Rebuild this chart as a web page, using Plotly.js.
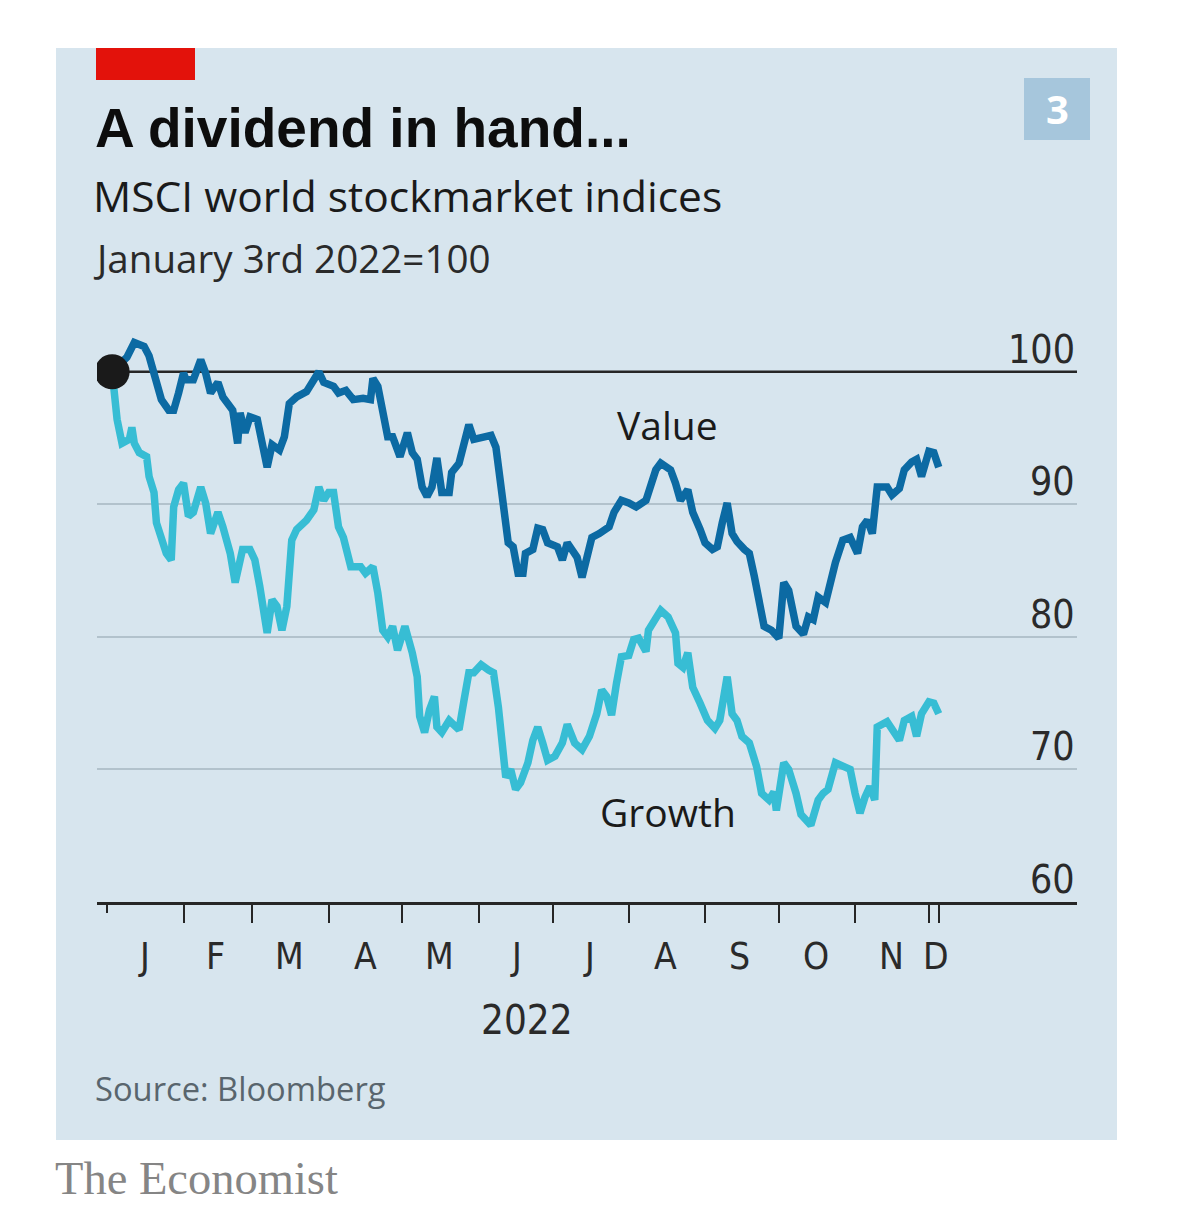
<!DOCTYPE html>
<html>
<head>
<meta charset="utf-8">
<script src="https://cdn.plot.ly/plotly-3.0.1.min.js"></script>
<style>
  html, body { margin: 0; padding: 0; background: #ffffff; }
  #chart { width: 1200px; height: 1228px; }
</style>
</head>
<body>
<div id="chart"></div>
<script>
// ---------------- DATA ----------------
const valueDates = [
  "2022-01-03","2022-01-09","2022-01-12","2022-01-16","2022-01-18","2022-01-20","2022-01-23","2022-01-26","2022-01-28","2022-01-30",
  "2022-02-01","2022-02-02","2022-02-05","2022-02-08","2022-02-10","2022-02-12","2022-02-15","2022-02-17","2022-02-21","2022-02-23",
  "2022-02-24","2022-02-26","2022-02-28","2022-03-03","2022-03-05","2022-03-07","2022-03-09","2022-03-12","2022-03-14","2022-03-16",
  "2022-03-19","2022-03-23","2022-03-26","2022-03-28","2022-03-30","2022-04-03","2022-04-05","2022-04-08","2022-04-11","2022-04-15",
  "2022-04-18","2022-04-19","2022-04-21","2022-04-23","2022-04-25","2022-04-27","2022-04-29","2022-04-30","2022-05-03","2022-05-05",
  "2022-05-07","2022-05-09","2022-05-11","2022-05-13","2022-05-15","2022-05-17","2022-05-20","2022-05-21","2022-05-24","2022-05-28",
  "2022-05-30","2022-06-03","2022-06-06","2022-06-08","2022-06-10","2022-06-12","2022-06-13","2022-06-15","2022-06-17","2022-06-19",
  "2022-06-20","2022-06-23","2022-06-25","2022-06-27","2022-06-29","2022-07-03","2022-07-05","2022-07-07","2022-07-09","2022-07-11",
  "2022-07-13","2022-07-15","2022-07-17","2022-07-20","2022-07-24","2022-07-26","2022-07-29","2022-08-01","2022-08-04","2022-08-08",
  "2022-08-10","2022-08-12","2022-08-14","2022-08-18","2022-08-20","2022-08-22","2022-08-25","2022-08-27","2022-08-30","2022-09-01",
  "2022-09-04","2022-09-06","2022-09-08","2022-09-10","2022-09-12","2022-09-14","2022-09-17","2022-09-19","2022-09-21","2022-09-23",
  "2022-09-25","2022-09-28","2022-10-01","2022-10-03","2022-10-05","2022-10-08","2022-10-11","2022-10-13","2022-10-15","2022-10-17",
  "2022-10-20","2022-10-24","2022-10-27","2022-10-30","2022-11-02","2022-11-04","2022-11-06","2022-11-08","2022-11-10","2022-11-14",
  "2022-11-16","2022-11-19","2022-11-21","2022-11-24","2022-11-26","2022-11-28","2022-11-30","2022-12-01","2022-12-03","2022-12-05"
];
const valueIndex = [
  100.0,101.1,102.2,101.9,101.2,99.9,97.9,97.1,97.1,98.4,
  99.9,99.4,99.4,100.9,99.9,98.4,99.2,98.1,97.1,94.6,
  96.9,95.4,96.6,96.4,94.3,92.8,94.5,94.1,95.1,97.6,
  98.1,98.5,99.4,100.0,99.2,98.9,98.4,98.6,97.9,98.0,
  97.9,99.5,98.9,96.6,95.1,95.1,94.1,93.6,95.4,93.9,
  93.4,91.3,90.6,91.3,93.5,90.9,90.9,92.4,93.1,96.0,
  94.9,95.1,95.2,94.3,91.8,88.8,87.1,86.8,84.8,84.8,
  86.3,86.6,88.2,88.1,87.1,86.8,85.8,87.1,86.6,86.0,
  84.5,85.8,87.5,87.8,88.3,89.4,90.3,90.1,89.8,90.3,
  91.6,92.6,93.1,92.6,91.6,90.3,91.1,89.4,88.1,87.1,
  86.6,86.8,88.6,90.1,87.8,87.2,86.6,86.3,84.6,82.5,
  80.8,80.5,79.9,84.1,83.5,80.8,80.2,81.5,81.3,83.0,
  82.6,85.6,87.3,87.5,86.3,88.3,88.8,87.8,91.3,91.3,
  90.7,91.2,92.6,93.2,93.4,92.1,93.6,94.0,93.9,92.8
];
const growthDates = [
  "2022-01-03","2022-01-04","2022-01-05","2022-01-07","2022-01-10","2022-01-11","2022-01-12","2022-01-14","2022-01-17","2022-01-18",
  "2022-01-20","2022-01-21","2022-01-23","2022-01-25","2022-01-27","2022-01-28","2022-01-30","2022-02-01","2022-02-03","2022-02-05",
  "2022-02-08","2022-02-10","2022-02-12","2022-02-15","2022-02-17","2022-02-20","2022-02-22","2022-02-25","2022-02-28","2022-03-02",
  "2022-03-04","2022-03-07","2022-03-09","2022-03-11","2022-03-13","2022-03-15","2022-03-17","2022-03-19","2022-03-23","2022-03-26",
  "2022-03-28","2022-03-30","2022-04-01","2022-04-03","2022-04-05","2022-04-07","2022-04-10","2022-04-14","2022-04-16","2022-04-19",
  "2022-04-21","2022-04-23","2022-04-25","2022-04-27","2022-04-29","2022-05-02","2022-05-05","2022-05-07","2022-05-08","2022-05-10",
  "2022-05-12","2022-05-14","2022-05-15","2022-05-17","2022-05-20","2022-05-24","2022-05-26","2022-05-28","2022-05-30","2022-06-02",
  "2022-06-05","2022-06-07","2022-06-09","2022-06-11","2022-06-12","2022-06-14","2022-06-16","2022-06-18","2022-06-21","2022-06-23",
  "2022-06-25","2022-06-27","2022-06-29","2022-07-02","2022-07-05","2022-07-07","2022-07-10","2022-07-13","2022-07-16","2022-07-19",
  "2022-07-21","2022-07-23","2022-07-25","2022-07-27","2022-07-29","2022-08-01","2022-08-03","2022-08-05","2022-08-08","2022-08-09",
  "2022-08-12","2022-08-14","2022-08-17","2022-08-20","2022-08-21","2022-08-23","2022-08-25","2022-08-27","2022-08-30","2022-09-02",
  "2022-09-05","2022-09-07","2022-09-10","2022-09-12","2022-09-14","2022-09-16","2022-09-19","2022-09-22","2022-09-24","2022-09-27",
  "2022-09-29","2022-09-30","2022-10-03","2022-10-05","2022-10-08","2022-10-10","2022-10-14","2022-10-17","2022-10-19","2022-10-21",
  "2022-10-24","2022-10-27","2022-10-30","2022-11-01","2022-11-03","2022-11-05","2022-11-07","2022-11-09","2022-11-10","2022-11-14",
  "2022-11-16","2022-11-19","2022-11-21","2022-11-24","2022-11-26","2022-11-28","2022-12-01","2022-12-03","2022-12-05"
];
const growthIndex = [
  100.0,98.4,96.4,94.6,94.9,95.8,94.6,93.9,93.6,92.1,
  90.9,88.6,87.5,86.3,85.8,89.8,91.1,91.6,89.1,89.4,
  91.3,90.1,87.8,89.4,88.3,86.3,84.1,86.6,86.6,85.8,
  83.8,80.3,82.8,82.3,80.5,82.3,87.3,88.1,88.8,89.6,
  91.3,90.3,90.9,90.9,88.3,87.5,85.3,85.3,84.8,85.3,
  83.3,80.5,80.0,80.8,79.0,80.8,78.8,77.0,74.0,72.8,
  74.5,75.5,73.2,72.8,73.7,73.0,75.2,77.3,77.3,77.9,
  77.5,77.3,74.7,71.5,69.4,70.0,68.5,69.0,70.5,72.2,
  73.2,72.0,70.7,71.0,72.0,73.4,72.0,71.5,72.5,74.2,
  76.0,75.5,74.1,76.5,78.5,78.6,79.8,79.9,78.9,80.5,
  81.5,82.0,81.5,80.3,78.0,77.7,78.8,76.2,75.0,73.7,
  73.1,73.7,77.0,74.2,73.7,72.5,72.0,70.2,68.2,67.7,
  68.3,66.9,70.5,70.0,68.2,66.6,65.8,67.7,68.2,68.5,
  70.5,70.2,70.0,68.2,66.7,67.9,68.7,67.7,73.2,73.6,
  73.0,72.2,73.7,74.0,72.5,74.2,75.1,75.0,74.2
];
const seriesNames = ["Value", "Growth"];
const baseDate = "2022-01-03";
const baseValue = 100;
const monthStarts = ["2022-02-01","2022-03-01","2022-04-01","2022-05-01","2022-06-01","2022-07-01",
                     "2022-08-01","2022-09-01","2022-10-01","2022-11-01","2022-12-01","2022-12-05"];
const yearStart = ["2022-01-01"];
const monthLabelDates = ["2022-01-16","2022-02-14","2022-03-16","2022-04-16","2022-05-16","2022-06-16",
                         "2022-07-16","2022-08-16","2022-09-15","2022-10-16","2022-11-16","2022-12-04"];
const monthLabels = ["J","F","M","A","M","J","J","A","S","O","N","D"];
const yTickVals = [60, 70, 80, 90, 100];
const gridVals = [70, 80, 90];
const yearLabel = "2022";

// ---------------- LAYOUT HELPERS ----------------
const L = 97, R = 1077, T = 332, B = 902;   // plot area in px
const px = x => (x - L) / (R - L);
const py = y => (B - y) / (B - T);

const SANS = "'Open Sans', 'Noto Sans', sans-serif";
const NARROW = "'Liberation Sans Narrow', 'DejaVu Sans Condensed', 'Open Sans', sans-serif";
const BOLD = "'Liberation Sans', Arial, sans-serif";
const SERIF = "'Liberation Serif', 'DejaVu Serif', serif";

const cValue = "#0c6aa3";
const cGrowth = "#37bdd4";
const panel = "#d7e5ee";

const traces = [
  { x: growthDates, y: growthIndex, name: seriesNames[1], type: "scatter", mode: "lines",
    line: { color: cGrowth, width: 7.5 }, hoverinfo: "skip" },
  { x: valueDates, y: valueIndex, name: seriesNames[0], type: "scatter", mode: "lines",
    line: { color: cValue, width: 7.5 }, hoverinfo: "skip" },
  { x: [baseDate], y: [baseValue], type: "scatter", mode: "markers",
    marker: { color: "#1a1a1a", size: 35 }, hoverinfo: "skip" }
];

const annotations = [];
function txt(text, x, y, size, family, color, xanchor, extra) {
  annotations.push(Object.assign({
    text: text, xref: "paper", yref: "paper", x: px(x), y: py(y),
    xanchor: xanchor || "left", yanchor: "middle", showarrow: false,
    font: { size: size, family: family, color: color }
  }, extra || {}));
}
txt("<b>A dividend in hand...</b>", 93, 128, 55, BOLD, "#0d0d0d");
txt("MSCI world stockmarket indices", 91, 196, 42.5, SANS, "#1a1a1a");
txt("January 3rd 2022=100", 91, 258, 38.6, SANS, "#2a2a2a");
txt("<b>3</b>", 1057, 109, 40, SANS, "#ffffff", "center");
txt("Source: Bloomberg", 93, 1088, 32.7, SANS, "#59656d");
txt("The Economist", 53, 1178, 46.5, SERIF, "#858585");
txt(seriesNames[0], 667, 424, 39, SANS, "#1a1a1a", "center");
txt(seriesNames[1], 668, 811, 39, SANS, "#1a1a1a", "center");
txt(yearLabel, 527, 1020, 40, NARROW, "#2a2a2a", "center");

// y tick labels above their lines
yTickVals.forEach(v => annotations.push({
  text: String(v), xref: "paper", yref: "y", x: 1, y: v, xanchor: "right", yanchor: "bottom",
  showarrow: false, yshift: -2, font: { size: 39, family: NARROW, color: "#2a2a2a" }
}));
// month labels
monthLabelDates.forEach((d, i) => annotations.push({
  text: monthLabels[i], xref: "x", yref: "paper", x: d, y: py(956), xanchor: "center", yanchor: "middle",
  showarrow: false, font: { size: 37, family: NARROW, color: "#2a2a2a" }
}));

const shapes = [
  // panel
  { type: "rect", xref: "paper", yref: "paper", x0: px(56), x1: px(1117), y0: py(1140), y1: py(48),
    fillcolor: panel, line: { width: 0 }, layer: "below" },
  // red tag
  { type: "rect", xref: "paper", yref: "paper", x0: px(96), x1: px(195), y0: py(80), y1: py(48),
    fillcolor: "#e3120b", line: { width: 0 }, layer: "below" },
  // badge
  { type: "rect", xref: "paper", yref: "paper", x0: px(1024), x1: px(1090), y0: py(140), y1: py(78),
    fillcolor: "#a6c6dc", line: { width: 0 }, layer: "below" },
  // 100 reference line
  { type: "line", xref: "paper", yref: "y", x0: 0, x1: 1, y0: 100, y1: 100,
    line: { color: "#262626", width: 2.5 }, layer: "below" }
];

const layout = {
  width: 1200, height: 1228,
  margin: { l: L, r: 1200 - R, t: T, b: 1228 - B, pad: 0 },
  paper_bgcolor: "#ffffff", plot_bgcolor: "rgba(0,0,0,0)",
  showlegend: false,
  xaxis: {
    type: "date", range: ["2021-12-27 20:00", "2023-01-30 05:00"],
    tickmode: "array", tickvals: monthStarts, showticklabels: false,
    ticks: "outside", ticklen: 18, tickwidth: 2, tickcolor: "#262626",
    minor: { tickmode: "array", tickvals: yearStart, ticks: "outside", ticklen: 8, tickwidth: 2, tickcolor: "#262626", showgrid: false },
    showgrid: false, zeroline: false,
    showline: true, linecolor: "#262626", linewidth: 3
  },
  yaxis: {
    range: [60, 103], tickmode: "array", tickvals: gridVals, showticklabels: false,
    showgrid: true, gridcolor: "#b2c2cc", gridwidth: 2, zeroline: false, ticks: "", showline: false,
    fixedrange: true
  },
  shapes: shapes,
  annotations: annotations
};

Plotly.newPlot("chart", traces, layout, { staticPlot: true, displayModeBar: false });
</script>
</body>
</html>
